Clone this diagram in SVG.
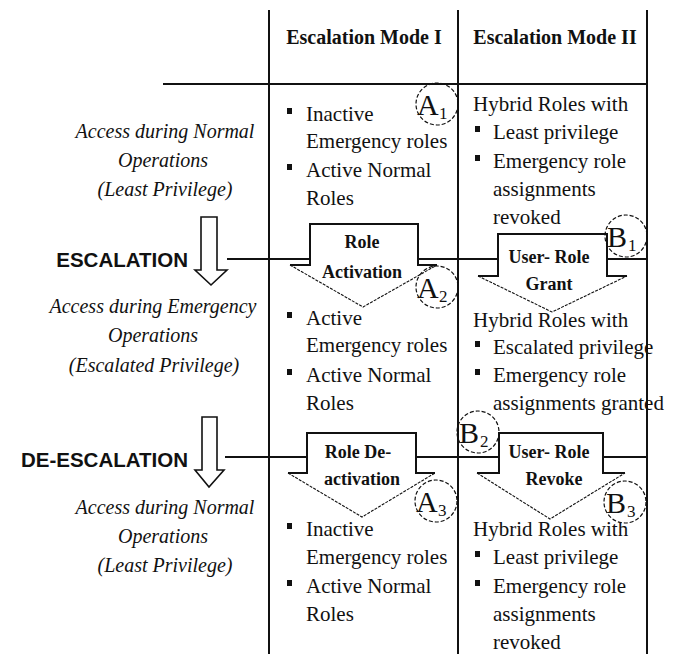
<svg xmlns="http://www.w3.org/2000/svg" width="677" height="654" viewBox="0 0 677 654">
<style>
.ln{stroke:#111;stroke-width:2;fill:none}
.thin{stroke:#111;stroke-width:1.1;fill:none;stroke-dasharray:3 1.2}
.hol{stroke:#111;stroke-width:1.6;fill:#fff}
.wf{fill:#fff;stroke:none}
.t{font-family:"Liberation Serif","Times New Roman",serif;font-size:21px;fill:#111}
.it{font-style:italic;font-size:20px;text-anchor:middle}
.hdr{font-weight:bold;font-size:20px;text-anchor:middle}
.sans{font-family:"Liberation Sans",Arial,sans-serif;font-weight:bold;font-size:20.5px;text-anchor:end;fill:#111}
.at{font-weight:bold;font-size:18px;text-anchor:middle}
.circ{fill:none;stroke:#111;stroke-width:1.2;stroke-dasharray:4 2}
.lbl{font-size:30px}
.sub{font-size:17px}
.bul{fill:#111}
</style>
<rect width="677" height="654" fill="#fff"/>

<g id="grid">
<line class="ln" x1="269" y1="10" x2="269" y2="654"/>
<line class="ln" x1="458" y1="10" x2="458" y2="654"/>
<line class="ln" x1="647" y1="10" x2="647" y2="654"/>
<line class="ln" x1="163" y1="84" x2="647" y2="84"/>
</g>

<g id="connectors">
<line class="ln" x1="227" y1="259" x2="647" y2="259"/>
<line class="ln" x1="225" y1="457" x2="647" y2="457"/>
</g>

<g id="headers">
<text class="t hdr" x="364" y="44">Escalation Mode I</text>
<text class="t hdr" x="555" y="44">Escalation Mode II</text>
</g>

<g id="left-normal1">
<text class="t it" x="165" y="138">Access during Normal</text>
<text class="t it" x="163" y="167">Operations</text>
<text class="t it" x="165" y="196">(Least Privilege)</text>
</g>

<g id="escalation">
<text class="sans" x="188" y="267">ESCALATION</text>
<polygon class="hol" points="201,217 217,217 217,270 227,270 211,285 195,270 201,270"/>
</g>

<g id="left-emergency">
<text class="t it" x="153" y="313">Access during Emergency</text>
<text class="t it" x="153" y="342">Operations</text>
<text class="t it" x="154" y="372">(Escalated Privilege)</text>
</g>

<g id="deescalation">
<text class="sans" x="188" y="467">DE-ESCALATION</text>
<polygon class="hol" points="202,417 217,417 217,470 224,470 209,487 195,470 202,470"/>
</g>

<g id="left-normal2">
<text class="t it" x="165" y="514">Access during Normal</text>
<text class="t it" x="163" y="543">Operations</text>
<text class="t it" x="165" y="572">(Least Privilege)</text>
</g>

<g id="mode1-normal">
<rect class="bul" x="287" y="108" width="5" height="6"/>
<text class="t" x="306" y="121">Inactive</text>
<text class="t" x="306" y="148">Emergency roles</text>
<rect class="bul" x="287" y="164" width="5" height="6"/>
<text class="t" x="306" y="177">Active Normal</text>
<text class="t" x="306" y="205">Roles</text>
</g>

<g id="mode2-normal">
<text class="t" x="473" y="111">Hybrid Roles with</text>
<rect class="bul" x="475" y="126" width="5" height="6"/>
<text class="t" x="493" y="139">Least privilege</text>
<rect class="bul" x="475" y="155" width="5" height="6"/>
<text class="t" x="493" y="168">Emergency role</text>
<text class="t" x="493" y="196">assignments</text>
<text class="t" x="493" y="224">revoked</text>
</g>

<g id="role-activation">
<polygon class="wf" points="310,224 418,224 418,265 437,265 363,307 290,265 310,265"/>
<path class="ln" d="M290,265 H310 V224 H418 V265 H437"/>
<path class="thin" d="M290,265 L363,307 L437,265"/>
<text class="t at" x="362" y="248">Role</text>
<text class="t at" x="362" y="278">Activation</text>
</g>

<g id="user-role-grant">
<polygon class="wf" points="498,234 607,234 607,276 627,276 552,312 478,276 498,276"/>
<path class="ln" d="M478,276 H498 V234 H607 V276 H627"/>
<path class="thin" d="M478,276 L552,312 L627,276"/>
<text class="t at" x="549" y="263">User- Role</text>
<text class="t at" x="549" y="290">Grant</text>
</g>

<g id="mode1-emergency">
<rect class="bul" x="287" y="312" width="5" height="6"/>
<text class="t" x="306" y="325">Active</text>
<text class="t" x="306" y="352">Emergency roles</text>
<rect class="bul" x="287" y="369" width="5" height="6"/>
<text class="t" x="306" y="382">Active Normal</text>
<text class="t" x="306" y="410">Roles</text>
</g>

<g id="mode2-emergency">
<text class="t" x="473" y="327">Hybrid Roles with</text>
<rect class="bul" x="475" y="341" width="5" height="6"/>
<text class="t" x="493" y="354">Escalated privilege</text>
<rect class="bul" x="475" y="369" width="5" height="6"/>
<text class="t" x="493" y="382">Emergency role</text>
<text class="t" x="493" y="410">assignments granted</text>
</g>

<g id="role-deactivation">
<polygon class="wf" points="307,433 416,433 416,473 435,473 362,517 288,473 307,473"/>
<path class="ln" d="M288,473 H307 V433 H416 V473 H435"/>
<path class="thin" d="M288,473 L362,517 L435,473"/>
<text class="t at" x="358" y="458">Role De-</text>
<text class="t at" x="362" y="485">activation</text>
</g>

<g id="user-role-revoke">
<polygon class="wf" points="499,433 603,433 603,473 625,473 550,519 477,473 499,473"/>
<path class="ln" d="M477,473 H499 V433 H603 V473 H625"/>
<path class="thin" d="M477,473 L550,519 L625,473"/>
<text class="t at" x="549" y="458">User- Role</text>
<text class="t at" x="554" y="485">Revoke</text>
</g>

<g id="mode1-normal2">
<rect class="bul" x="287" y="523" width="5" height="6"/>
<text class="t" x="306" y="536">Inactive</text>
<text class="t" x="306" y="564">Emergency roles</text>
<rect class="bul" x="287" y="580" width="5" height="6"/>
<text class="t" x="306" y="593">Active Normal</text>
<text class="t" x="306" y="621">Roles</text>
</g>

<g id="mode2-normal2">
<text class="t" x="473" y="536">Hybrid Roles with</text>
<rect class="bul" x="475" y="551" width="5" height="6"/>
<text class="t" x="493" y="564">Least privilege</text>
<rect class="bul" x="475" y="580" width="5" height="6"/>
<text class="t" x="493" y="593">Emergency role</text>
<text class="t" x="493" y="621">assignments</text>
<text class="t" x="493" y="649">revoked</text>
</g>

<g id="A1">
<circle class="circ" cx="437" cy="104" r="21"/>
<text class="t lbl" x="417" y="115">A</text><text class="t sub" x="439" y="119">1</text>
</g>
<g id="A2">
<circle class="circ" cx="437" cy="287" r="21"/>
<text class="t lbl" x="417" y="298">A</text><text class="t sub" x="439" y="302">2</text>
</g>
<g id="A3">
<circle class="circ" cx="436" cy="501" r="21"/>
<text class="t lbl" x="416" y="512">A</text><text class="t sub" x="438" y="516">3</text>
</g>
<g id="B1">
<circle class="circ" cx="626" cy="236" r="21"/>
<text class="t lbl" x="607" y="247">B</text><text class="t sub" x="628" y="251">1</text>
</g>
<g id="B2">
<circle class="circ" cx="478" cy="432" r="21"/>
<text class="t lbl" x="459" y="443">B</text><text class="t sub" x="480" y="447">2</text>
</g>
<g id="B3">
<circle class="circ" cx="625" cy="502" r="21"/>
<text class="t lbl" x="606" y="513">B</text><text class="t sub" x="627" y="517">3</text>
</g>
</svg>
